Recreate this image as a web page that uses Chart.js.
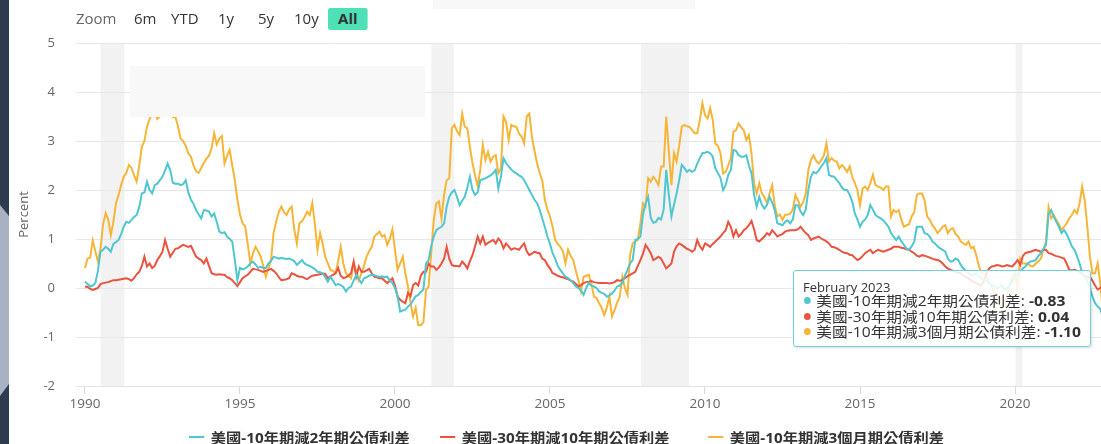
<!DOCTYPE html>
<html>
<head>
<meta charset="utf-8">
<script src="https://cdn.jsdelivr.net/npm/chart.js@4.4.1/dist/chart.umd.min.js"></script>
<style>
  html, body { margin: 0; padding: 0; background: #fff; }
  body { width: 1101px; height: 444px; position: relative; overflow: hidden;
         font-family: "Open Sans", "Noto Sans CJK TC", sans-serif; }
  #chart { position: absolute; left: 0; top: 0; }
  .side { position: absolute; left: 0; top: 0; width: 9px; height: 444px; background: #2e3a4f; }
  .side-light { position: absolute; left: 0; top: 0; width: 9px; height: 444px; background: #a8b2c4;
                clip-path: polygon(0 205px, 9px 216px, 9px 384px, 0 396px); }
  .veil { position: absolute; background: #f8f8f8; }
  .rs { position: absolute; top: 8px; height: 22px; line-height: 22px; font-size: 14px; color: #333;
        transform: scaleX(1.07); transform-origin: left center; }
  .rs.label { color: #666; }
  .rs.on { background: #4ee0b7; font-weight: bold; text-align: center; width: 37px; border-radius: 2px; }
  .lg { position: absolute; top: 427px; height: 20px; display: flex; align-items: center;
        font-size: 14px; font-weight: bold; color: #333; white-space: nowrap;
        transform: scaleX(1.09); transform-origin: left center; }
  .lg .sym { width: 14px; height: 2px; margin-right: 6px; }
  #tip { position: absolute; left: 793px; top: 270px; width: 296px; height: 75px;
         background: rgba(255,255,255,0.85); border: 1px solid #74d0d8; border-radius: 3px;
         box-shadow: 1px 1px 3px rgba(0,0,0,0.15); color: #333; }
  #tip .title { position: absolute; left: 9px; top: 8px; font-size: 13px; line-height: 16px; }
  #tip .row { position: absolute; left: 10px; font-size: 14px; line-height: 16px; white-space: nowrap;
              transform: scaleX(1.12); transform-origin: left center; }
  #tip .dot { display: inline-block; width: 6px; height: 7px; border-radius: 50%; margin-right: 5px; vertical-align: 2px; }
</style>
</head>
<body>
<canvas id="chart" width="1101" height="444"></canvas>
<div class="side"></div>
<div class="side-light"></div>
<div class="veil" style="left:130px; top:66px; width:295px; height:51px;"></div>
<div class="veil" style="left:433px; top:0; width:262px; height:9px;"></div>
<div class="rs label" style="left:76px;">Zoom</div>
<div class="rs" style="left:134px;">6m</div>
<div class="rs" style="left:171px;">YTD</div>
<div class="rs" style="left:218px;">1y</div>
<div class="rs" style="left:258px;">5y</div>
<div class="rs" style="left:294px;">10y</div>
<div class="rs on" style="left:328px;">All</div>
<div id="legend"></div>
<div id="tip"></div>
<script>
// monthly values, Jan 1990 .. Feb 2023
const startYear = 1990;
const monthNames = ['January', 'February', 'March', 'April', 'May', 'June', 'July',
                    'August', 'September', 'October', 'November', 'December'];

const seriesNames = ['美國-10年期減2年期公債利差', '美國-30年期減10年期公債利差', '美國-10年期減3個月期公債利差'];
const seriesColors = ['#4fc6d0', '#e9533f', '#f7b538'];

const spread10y2y = [
  0.13, 0.08, 0.03, 0.05, 0.10, 0.35, 0.74, 0.78, 0.84, 0.80, 0.74, 0.90,
  0.94, 0.98, 1.10, 1.25, 1.35, 1.33, 1.39, 1.45, 1.49, 1.65, 1.93, 1.95,
  2.17, 2.00, 1.93, 2.10, 2.13, 2.20, 2.27, 2.40, 2.54, 2.40, 2.15, 2.13,
  2.13, 2.10, 2.12, 2.20, 1.95, 1.80, 1.72, 1.59, 1.50, 1.42, 1.59, 1.58,
  1.56, 1.46, 1.52, 1.35, 1.15, 1.12, 1.14, 1.05, 1.00, 0.95, 0.57, 0.16,
  0.41, 0.38, 0.40, 0.44, 0.50, 0.54, 0.48, 0.41, 0.43, 0.41, 0.41, 0.50,
  0.55, 0.64, 0.62, 0.60, 0.61, 0.60, 0.59, 0.60, 0.58, 0.55, 0.47, 0.52,
  0.57, 0.50, 0.47, 0.45, 0.42, 0.38, 0.33, 0.32, 0.30, 0.22, 0.13, 0.23,
  0.15, 0.06, 0.08, 0.06, 0.02, -0.07, 0.00, 0.03, 0.15, 0.27, 0.18, 0.10,
  0.20, 0.22, 0.25, 0.27, 0.26, 0.24, 0.23, 0.24, 0.22, 0.23, 0.15, 0.10,
  0.00, -0.17, -0.48, -0.46, -0.44, -0.38, -0.34, -0.25, -0.17, -0.14, -0.08, -0.03,
  0.50, 0.57, 0.85, 1.05, 1.18, 1.22, 1.25, 1.32, 1.66, 1.86, 1.95, 2.00,
  1.86, 1.69, 1.78, 1.86, 2.05, 2.27, 2.00, 1.90, 1.95, 2.20, 2.22, 2.24,
  2.27, 2.30, 2.34, 2.41, 2.03, 2.27, 2.65, 2.55, 2.48, 2.42, 2.37, 2.34,
  2.30, 2.27, 2.20, 2.10, 2.00, 1.90, 1.80, 1.73, 1.60, 1.42, 1.25, 1.05,
  0.90, 0.71, 0.60, 0.45, 0.37, 0.30, 0.23, 0.20, 0.16, 0.10, 0.03, 0.00,
  -0.05, -0.14, 0.00, 0.10, 0.05, 0.03, 0.00, -0.07, -0.10, -0.12, -0.18, -0.15,
  -0.11, -0.05, 0.03, 0.05, 0.10, 0.25, 0.37, 0.50, 0.57, 0.98, 1.00, 1.05,
  1.50, 1.73, 1.86, 1.43, 1.33, 1.35, 1.43, 1.40, 1.60, 2.41, 1.90, 1.46,
  1.70, 1.93, 2.20, 2.51, 2.45, 2.37, 2.41, 2.37, 2.40, 2.54, 2.65, 2.75,
  2.76, 2.78, 2.75, 2.68, 2.44, 2.34, 2.25, 2.00, 2.10, 2.31, 2.41, 2.82,
  2.80, 2.71, 2.68, 2.68, 2.71, 2.50, 2.34, 1.90, 1.66, 1.86, 1.70, 1.62,
  1.70, 1.86, 1.75, 1.59, 1.32, 1.30, 1.28, 1.35, 1.38, 1.32, 1.40, 1.69,
  1.69, 1.56, 1.49, 1.60, 2.00, 2.27, 2.37, 2.34, 2.40, 2.48, 2.55, 2.65,
  2.31, 2.28, 2.27, 2.20, 2.14, 2.05, 2.00, 2.00, 1.90, 1.76, 1.52, 1.40,
  1.25, 1.35, 1.40, 1.49, 1.69, 1.60, 1.49, 1.45, 1.42, 1.38, 1.32, 1.25,
  1.12, 1.05, 0.98, 1.05, 0.95, 0.88, 0.80, 0.78, 0.85, 0.95, 1.25, 1.25,
  1.25, 1.12, 1.10, 1.05, 0.95, 0.91, 0.85, 0.81, 0.78, 0.74, 0.60, 0.54,
  0.55, 0.60, 0.57, 0.47, 0.40, 0.35, 0.30, 0.25, 0.27, 0.30, 0.23, 0.20,
  0.16, 0.15, 0.10, 0.06, 0.05, -0.01, 0.03, 0.06, -0.04, 0.00, 0.06, 0.15,
  0.23, 0.30, 0.33, 0.40, 0.44, 0.50, 0.54, 0.55, 0.57, 0.65, 0.71, 0.80,
  0.88, 1.52, 1.59, 1.46, 1.35, 1.25, 1.12, 1.18, 1.10, 0.98, 0.85, 0.78,
  0.65, 0.50, 0.30, 0.23, 0.15, 0.00, -0.18, -0.31, -0.38, -0.42, -0.60, -0.70,
  -0.72, -0.83
];

const spread30y10y = [
  0.03, 0.02, -0.02, -0.04, -0.02, 0.00, 0.08, 0.10, 0.11, 0.12, 0.14, 0.16,
  0.16, 0.17, 0.18, 0.19, 0.20, 0.18, 0.15, 0.20, 0.28, 0.33, 0.45, 0.64,
  0.44, 0.50, 0.41, 0.45, 0.57, 0.65, 0.74, 0.98, 0.80, 0.64, 0.72, 0.80,
  0.81, 0.85, 0.88, 0.86, 0.84, 0.86, 0.75, 0.64, 0.60, 0.57, 0.50, 0.60,
  0.45, 0.30, 0.28, 0.27, 0.28, 0.27, 0.27, 0.22, 0.20, 0.16, 0.10, 0.04,
  0.12, 0.20, 0.24, 0.27, 0.33, 0.39, 0.38, 0.37, 0.35, 0.33, 0.35, 0.37,
  0.39, 0.35, 0.30, 0.22, 0.16, 0.17, 0.18, 0.20, 0.30, 0.28, 0.25, 0.23,
  0.23, 0.20, 0.18, 0.22, 0.25, 0.26, 0.27, 0.28, 0.29, 0.29, 0.20, 0.24,
  0.27, 0.30, 0.41, 0.25, 0.20, 0.22, 0.25, 0.30, 0.54, 0.23, 0.44, 0.33,
  0.33, 0.36, 0.39, 0.30, 0.23, 0.22, 0.20, 0.20, 0.15, 0.10, 0.15, 0.20,
  0.05, -0.17, -0.24, -0.28, -0.31, -0.10, -0.17, 0.06, 0.10, 0.05, 0.25, 0.33,
  0.33, 0.50, 0.44, 0.44, 0.37, 0.42, 0.50, 0.60, 0.84, 0.60, 0.47, 0.45,
  0.45, 0.44, 0.54, 0.48, 0.40, 0.55, 0.67, 0.85, 1.05, 0.91, 1.05, 0.88,
  0.92, 0.95, 0.98, 0.91, 1.01, 0.95, 0.81, 0.91, 0.85, 0.78, 0.81, 0.80,
  0.78, 0.85, 0.91, 0.75, 0.67, 0.70, 0.74, 0.72, 0.71, 0.60, 0.57, 0.47,
  0.40, 0.30, 0.28, 0.25, 0.23, 0.22, 0.20, 0.18, 0.15, 0.13, 0.08, 0.03,
  0.06, 0.10, 0.12, 0.13, 0.14, 0.12, 0.11, 0.10, 0.10, 0.10, 0.10, 0.09,
  0.10, 0.12, 0.16, 0.15, 0.16, 0.20, 0.24, 0.27, 0.30, 0.33, 0.45, 0.57,
  0.70, 0.88, 0.80, 0.71, 0.57, 0.60, 0.64, 0.60, 0.50, 0.40, 0.45, 0.50,
  0.74, 0.85, 0.91, 0.88, 0.84, 0.80, 0.78, 0.74, 0.78, 0.98, 0.85, 0.78,
  0.91, 0.88, 0.84, 0.90, 0.95, 1.00, 1.05, 1.12, 1.18, 1.35, 1.25, 1.05,
  1.18, 1.05, 1.10, 1.18, 1.22, 1.28, 1.37, 1.20, 0.98, 0.95, 1.00, 1.05,
  1.12, 1.08, 1.18, 1.12, 1.05, 1.08, 1.10, 1.15, 1.17, 1.18, 1.18, 1.18,
  1.20, 1.25, 1.18, 1.12, 1.08, 0.98, 1.01, 1.03, 1.05, 1.01, 0.98, 0.95,
  0.91, 0.84, 0.83, 0.81, 0.78, 0.74, 0.72, 0.71, 0.68, 0.67, 0.62, 0.57,
  0.60, 0.65, 0.71, 0.75, 0.78, 0.71, 0.75, 0.78, 0.76, 0.74, 0.76, 0.78,
  0.80, 0.84, 0.84, 0.84, 0.82, 0.81, 0.79, 0.78, 0.74, 0.71, 0.66, 0.64,
  0.67, 0.66, 0.64, 0.62, 0.60, 0.58, 0.57, 0.55, 0.50, 0.44, 0.40, 0.37,
  0.35, 0.33, 0.31, 0.30, 0.26, 0.22, 0.20, 0.15, 0.12, 0.10, 0.08, 0.06,
  0.15, 0.30, 0.40, 0.44, 0.45, 0.47, 0.46, 0.44, 0.45, 0.47, 0.45, 0.44,
  0.50, 0.57, 0.47, 0.65, 0.71, 0.73, 0.74, 0.76, 0.78, 0.76, 0.74, 0.78,
  0.78, 0.71, 0.70, 0.67, 0.65, 0.64, 0.62, 0.60, 0.50, 0.37, 0.36, 0.37,
  0.35, 0.33, 0.28, 0.23, 0.23, 0.23, 0.15, 0.05, -0.03, 0.00, 0.05, 0.05,
  0.06, 0.04
];

const spread10y3m = [
  0.41, 0.60, 0.62, 0.97, 0.75, 0.54, 0.80, 1.30, 1.53, 1.40, 1.08, 1.35,
  1.73, 1.90, 2.10, 2.27, 2.35, 2.51, 2.45, 2.30, 2.17, 2.50, 2.88, 3.00,
  3.29, 3.45, 3.55, 3.60, 3.45, 3.50, 3.60, 3.70, 3.80, 3.60, 3.49, 3.49,
  3.30, 3.05, 3.00, 2.90, 2.75, 2.68, 2.50, 2.38, 2.35, 2.45, 2.55, 2.64,
  2.70, 2.85, 3.16, 2.93, 3.05, 3.10, 2.54, 2.70, 2.82, 2.50, 2.20, 1.80,
  1.50, 1.32, 1.26, 0.90, 0.50, 0.70, 0.84, 0.75, 0.64, 0.45, 0.23, 0.40,
  0.57, 1.12, 1.35, 1.55, 1.66, 1.55, 1.49, 1.60, 1.66, 1.20, 0.91, 1.32,
  1.36, 1.45, 1.56, 1.49, 1.73, 1.30, 0.78, 1.12, 0.90, 0.64, 0.50, 0.37,
  0.35, 0.30, 0.55, 0.84, 0.50, 0.30, 0.25, 0.20, 0.50, 0.35, 0.16, 0.30,
  0.45, 0.64, 0.75, 0.84, 1.05, 1.10, 1.15, 1.05, 1.08, 0.88, 1.00, 1.20,
  0.78, 0.37, 0.50, 0.64, 0.30, 0.03, -0.30, -0.58, -0.40, -0.76, -0.76, -0.70,
  -0.04, 0.03, 0.70, 1.39, 1.73, 1.77, 1.42, 1.90, 2.20, 2.24, 3.26, 3.33,
  3.20, 3.12, 3.56, 3.29, 3.26, 2.88, 2.54, 2.30, 2.07, 2.41, 2.92, 2.61,
  2.78, 2.58, 2.68, 2.71, 2.34, 2.44, 3.50, 3.39, 3.02, 3.33, 3.30, 3.29,
  3.15, 3.09, 2.95, 3.50, 3.56, 3.09, 2.80, 2.54, 2.35, 2.20, 1.80, 1.60,
  1.46, 1.25, 0.98, 0.90, 0.84, 0.75, 0.50, 0.78, 0.65, 0.57, 0.35, 0.16,
  -0.07, 0.23, 0.25, 0.27, 0.10, -0.18, -0.20, -0.31, -0.40, -0.55, -0.40, -0.18,
  -0.58, -0.45, -0.30, -0.18, 0.23, 0.00, -0.14, 0.67, 0.91, 0.95, 0.98, 1.32,
  1.73, 1.66, 2.24, 2.17, 2.27, 2.20, 2.10, 2.48, 2.48, 3.50, 2.80, 2.10,
  2.75, 2.58, 2.90, 3.29, 3.33, 3.30, 3.29, 3.22, 3.16, 3.16, 3.43, 3.77,
  3.53, 3.46, 3.67, 3.43, 2.95, 2.90, 2.75, 2.34, 2.37, 2.50, 2.65, 3.19,
  3.22, 3.36, 3.28, 3.22, 3.02, 3.12, 2.75, 2.14, 1.93, 2.14, 1.93, 1.85,
  1.73, 1.93, 2.10, 1.69, 1.46, 1.50, 1.39, 1.49, 1.50, 1.52, 1.60, 1.90,
  1.79, 1.66, 1.75, 1.93, 2.41, 2.61, 2.71, 2.60, 2.54, 2.61, 2.70, 2.95,
  2.58, 2.65, 2.60, 2.58, 2.44, 2.51, 2.45, 2.37, 2.48, 2.27, 2.14, 2.00,
  1.69, 2.03, 2.07, 2.00, 2.14, 2.31, 2.10, 2.07, 2.05, 2.00, 2.07, 2.07,
  1.46, 1.59, 1.55, 1.59, 1.39, 1.25, 1.28, 1.30, 1.46, 1.55, 1.90, 1.93,
  1.93, 1.79, 1.46, 1.39, 1.28, 1.22, 1.12, 1.18, 1.25, 1.28, 1.12, 1.20,
  1.22, 1.10, 1.05, 0.95, 0.91, 0.88, 0.95, 0.81, 0.84, 0.67, 0.45, 0.30,
  0.30, 0.25, 0.10, 0.05, -0.10, -0.15, -0.20, -0.40, -0.30, -0.15, 0.10, 0.25,
  0.30, 0.00, 0.60, 0.50, 0.50, 0.50, 0.45, 0.44, 0.50, 0.54, 0.60, 0.78,
  0.95, 1.65, 1.42, 1.49, 1.39, 1.30, 1.18, 1.25, 1.32, 1.42, 1.49, 1.59,
  1.52, 1.73, 2.07, 1.79, 1.25, 0.64, 0.30, 0.30, 0.50, 0.10, -0.50, -0.60,
  -1.00, -1.10
];

const yearTicks = [1990, 1995, 2000, 2005, 2010, 2015, 2020];
const yMin = -2, yMax = 5;
// recession bands in decimal years
const recessions = [[1990.5, 1991.27], [2001.17, 2001.9], [2007.93, 2009.48], [2020.02, 2020.24]];

const allSeries = [spread10y2y, spread30y10y, spread10y3m];

function toPoints(values) {
    return values.map((v, i) => ({ x: startYear + i / 12, y: v }));
}

const recessionBands = {
    id: 'recessionBands',
    beforeDraw(chart) {
        const { ctx, chartArea, scales } = chart;
        ctx.save();
        ctx.fillStyle = '#f2f2f2';
        recessions.forEach(([a, b]) => {
            const x1 = scales.x.getPixelForValue(a);
            const x2 = scales.x.getPixelForValue(b);
            ctx.fillRect(x1, chartArea.top, x2 - x1, chartArea.bottom - chartArea.top);
        });
        ctx.restore();
    }
};

Chart.defaults.font.family = '"Open Sans", "Noto Sans CJK TC", sans-serif';

new Chart(document.getElementById('chart').getContext('2d'), {
    type: 'line',
    data: {
        datasets: allSeries.map((vals, i) => ({
            label: seriesNames[i],
            data: toPoints(vals),
            borderColor: seriesColors[i],
            backgroundColor: seriesColors[i],
            borderWidth: 2,
            pointRadius: 0,
            tension: 0
        }))
    },
    options: {
        responsive: false,
        animation: false,
        devicePixelRatio: 1,
        layout: { padding: { top: 43, right: 0, bottom: 0, left: 0 } },
        plugins: {
            legend: { display: false },
            tooltip: { enabled: false }
        },
        scales: {
            x: {
                type: 'linear',
                min: 1989.71,
                max: 2022.774,
                afterFit: (s) => { s.height = 58; },
                afterBuildTicks: (s) => { s.ticks = yearTicks.map(v => ({ value: v })); },
                grid: { drawOnChartArea: false, drawTicks: true, tickLength: 8, color: '#d8d8d8' },
                border: { display: true, color: '#e3e3e3' },
                ticks: {
                    color: '#666',
                    font: { size: 13.5 },
                    padding: 2,
                    maxRotation: 0,
                    callback: (v) => String(v)
                }
            },
            y: {
                min: yMin,
                max: yMax,
                afterFit: (s) => { s.width = 76; },
                grid: { color: '#e6e6e6', drawTicks: false },
                border: { display: false },
                ticks: { stepSize: 1, color: '#666', font: { size: 13 }, padding: 21 },
                title: {
                    display: true,
                    text: 'Percent',
                    color: '#666',
                    font: { size: 13 },
                    padding: { top: 16, bottom: 0 }
                }
            }
        }
    },
    plugins: [recessionBands]
});

// legend, one item per series
const legendLeft = [189, 440, 708];
seriesNames.forEach((name, i) => {
    const item = document.createElement('div');
    item.className = 'lg';
    item.style.left = legendLeft[i] + 'px';
    item.innerHTML = '<span class="sym" style="background:' + seriesColors[i] + '"></span>' + name;
    document.body.appendChild(item);
});

// tooltip for the last month
const tip = document.getElementById('tip');
const last = spread10y2y.length - 1;
const lastYear = startYear + Math.floor(last / 12);
let html = '<div class="title">' + monthNames[last % 12] + ' ' + lastYear + '</div>';
allSeries.forEach((vals, i) => {
    html += '<div class="row" style="top:' + (22 + i * 15.5) + 'px"><span class="dot" style="background:' +
        seriesColors[i] + '"></span>' + seriesNames[i] + ': <b>' + vals[last].toFixed(2) + '</b></div>';
});
tip.innerHTML = html;
</script>
</body>
</html>
